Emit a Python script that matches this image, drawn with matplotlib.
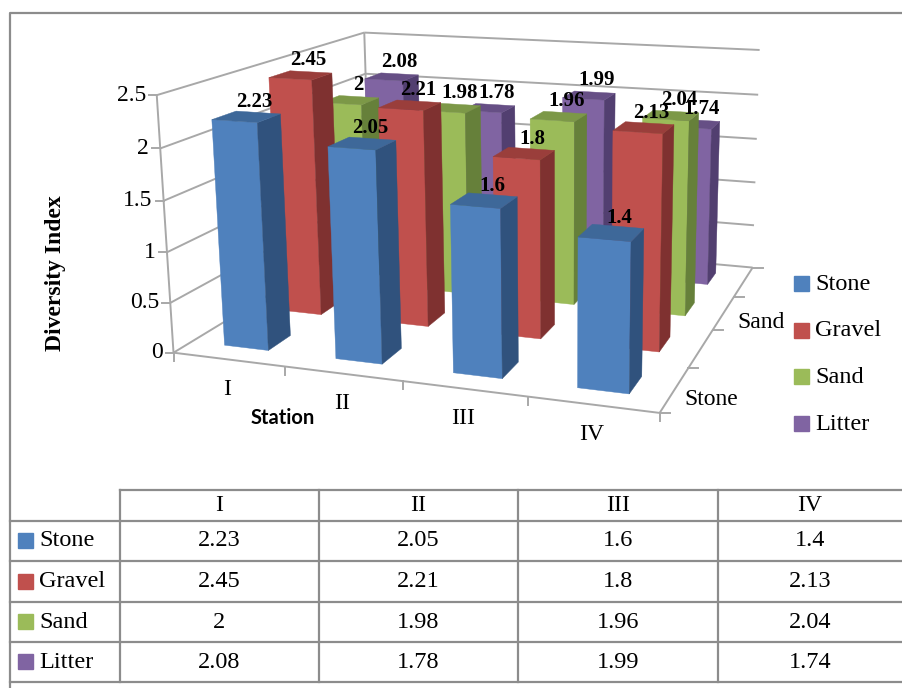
import numpy as np
from matplotlib.pylab import plt
from matplotlib.patches import Polygon, Rectangle

SERIF = "Liberation Serif"

stations = ["I", "II", "III", "IV"]
series = ["Stone", "Gravel", "Sand", "Litter"]
stone = [2.23, 2.05, 1.6, 1.4]
gravel = [2.45, 2.21, 1.8, 2.13]
sand = [2, 1.98, 1.96, 2.04]
litter = [2.08, 1.78, 1.99, 1.74]
z_ticks = [0, 0.5, 1, 1.5, 2, 2.5]

front_colors = ["#4F81BD", "#C0504D", "#9BBB59", "#8064A2"]
side_colors = ["#30527D", "#7F3130", "#66803A", "#523F70"]
top_colors = ["#3E6899", "#9A3E3B", "#7C9847", "#664F85"]
GRID = "#A8A8A8"
RULE = "#8C8C8C"

# box corners (station, row, value) and where they land on the canvas
BOX_3D = np.array([
    [0, 0, 0], [4, 0, 0], [4, 4, 0], [0, 4, 0],
    [0, 0, 2.5], [4, 4, 2.5], [0, 4, 2.5],
], dtype=float)
BOX_PX = np.array([
    [172, 350], [660, 415], [752, 265], [372, 236],
    [158, 96], [760, 51], [363, 31],
], dtype=float)


def fit_camera(world, image):
    rows = []
    rhs = []
    for (x, y, z), (u, v) in zip(world, image):
        rows.append([x, y, z, 1, 0, 0, 0, 0, -u * x, -u * y, -u * z])
        rows.append([0, 0, 0, 0, x, y, z, 1, -v * x, -v * y, -v * z])
        rhs += [u, v]
    p = np.linalg.lstsq(np.array(rows), np.array(rhs), rcond=None)[0]
    return np.append(p, 1.0).reshape(3, 4)


CAMERA = fit_camera(BOX_3D, BOX_PX)


def project(x, y, z):
    u, v, w = CAMERA @ np.array([x, y, z, 1.0])
    return u / w, v / w


def line3d(ax, a, b, **kw):
    pa, pb = project(*a), project(*b)
    ax.plot([pa[0], pb[0]], [pa[1], pb[1]], solid_capstyle="butt", **kw)


def draw_box(ax, x, y, h, colors, size=0.4):
    x0, x1 = x + 0.3, x + 0.3 + size
    y0, y1 = y + 0.3, y + 0.3 + size
    front = [project(x0, y0, 0), project(x1, y0, 0), project(x1, y0, h), project(x0, y0, h)]
    side = [project(x1, y0, 0), project(x1, y1, 0), project(x1, y1, h), project(x1, y0, h)]
    top = [project(x0, y0, h), project(x1, y0, h), project(x1, y1, h), project(x0, y1, h)]
    for pts, col in zip([front, side, top], colors):
        ax.add_patch(Polygon(pts, closed=True, facecolor=col, edgecolor=col, lw=0.3, zorder=3))


def draw_frame(ax):
    for z in z_ticks:
        # left wall, back wall, tick
        line3d(ax, (0, 0, z), (0, 4, z), color=GRID, lw=1.4, zorder=1)
        line3d(ax, (0, 4, z), (4, 4, z), color=GRID, lw=1.4, zorder=1)
        u, v = project(0, 0, z)
        ax.plot([u - 8, u], [v, v], color=GRID, lw=1.4, zorder=1)
        ax.text(u - 11, v, f"{z:g}", ha="right", va="center", family=SERIF, fontsize=17)
    line3d(ax, (0, 0, 0), (0, 0, 2.5), color=GRID, lw=1.4, zorder=1)
    line3d(ax, (0, 4, 0), (0, 4, 2.5), color=GRID, lw=1.4, zorder=1)
    line3d(ax, (0, 0, 0), (4, 0, 0), color=GRID, lw=1.4, zorder=1)
    line3d(ax, (4, 0, 0), (4, 4, 0), color=GRID, lw=1.4, zorder=1)
    for i in range(5):
        u, v = project(i, 0, 0)
        ax.plot([u, u], [v, v + 8], color=GRID, lw=1.4, zorder=1)
        u, v = project(4, i, 0)
        ax.plot([u, u + 10], [v, v], color=GRID, lw=1.4, zorder=1)


def draw_table(ax):
    cols = [10, 120, 319, 518, 718, 902]
    rows = [490, 521, 561, 602, 642, 682]
    for y in rows:
        ax.plot([cols[1] if y == rows[0] else cols[0], cols[-1]], [y, y], color=RULE, lw=1.6)
    for x in cols[1:5]:
        ax.plot([x, x], [rows[0], rows[-1]], color=RULE, lw=1.6)
    values = [stone, gravel, sand, litter]
    for i, name in enumerate(stations):
        ax.text((cols[i + 1] + cols[i + 2]) / 2, (rows[0] + rows[1]) / 2, name,
                ha="center", va="center", family=SERIF, fontsize=17)
    for r, name in enumerate(series):
        ymid = (rows[r + 1] + rows[r + 2]) / 2
        ax.add_patch(Rectangle((18, ymid - 8), 15, 15, color=front_colors[r]))
        ax.text(39, ymid, name, ha="left", va="center", family=SERIF, fontsize=17.5)
        for c in range(4):
            ax.text((cols[c + 1] + cols[c + 2]) / 2, ymid, f"{values[r][c]:g}",
                    ha="center", va="center", family=SERIF, fontsize=17.5)


def main():
    fig = plt.figure(figsize=(9.02, 6.88), dpi=100)
    ax = fig.add_axes([0, 0, 1, 1])
    ax.set_xlim(0, 902)
    ax.set_ylim(688, 0)
    ax.axis("off")

    # outer chart border
    ax.plot([10, 10, 902], [688, 13, 13], color=RULE, lw=1.6)

    draw_frame(ax)

    values = [stone, gravel, sand, litter]
    for row in range(3, -1, -1):
        colors = (front_colors[row], side_colors[row], top_colors[row])
        for st in range(4):
            draw_box(ax, st, row, values[row][st], colors)

    for row in range(4):
        for st in range(4):
            u, v = project(st + 0.5, row + 0.5, values[row][st])
            ax.text(u + 8, v - 15, f"{values[row][st]:g}", ha="center", va="center",
                    family=SERIF, fontsize=15, fontweight="bold", zorder=5)

    for i, name in enumerate(stations):
        u, v = project(i + 0.5, 0, 0)
        ax.text(u - 1, v + 30, name, ha="center", va="center", family=SERIF, fontsize=17)
    for i, name in zip([0, 2], ["Stone", "Sand"]):
        u, v = project(4, i + 0.5, 0)
        ax.text(u + 37, v + 10, name, ha="left" if False else "center", va="center",
                family=SERIF, fontsize=17)

    ax.text(283, 418, "Station", ha="center", va="center", family="Lato",
            fontsize=14.5, fontweight="bold")
    ax.text(55, 273, "Diversity Index", rotation=90, ha="center", va="center",
            family=SERIF, fontsize=17, fontweight="bold")

    for i, name in enumerate(series):
        y = 284 + i * 46.7
        ax.add_patch(Rectangle((794, y - 8), 15, 15, color=front_colors[i], zorder=4))
        ax.text(815, y, name, ha="left", va="center", family=SERIF, fontsize=17.5, zorder=4)

    draw_table(ax)
    fig.savefig("out.png", dpi=100)


main()
